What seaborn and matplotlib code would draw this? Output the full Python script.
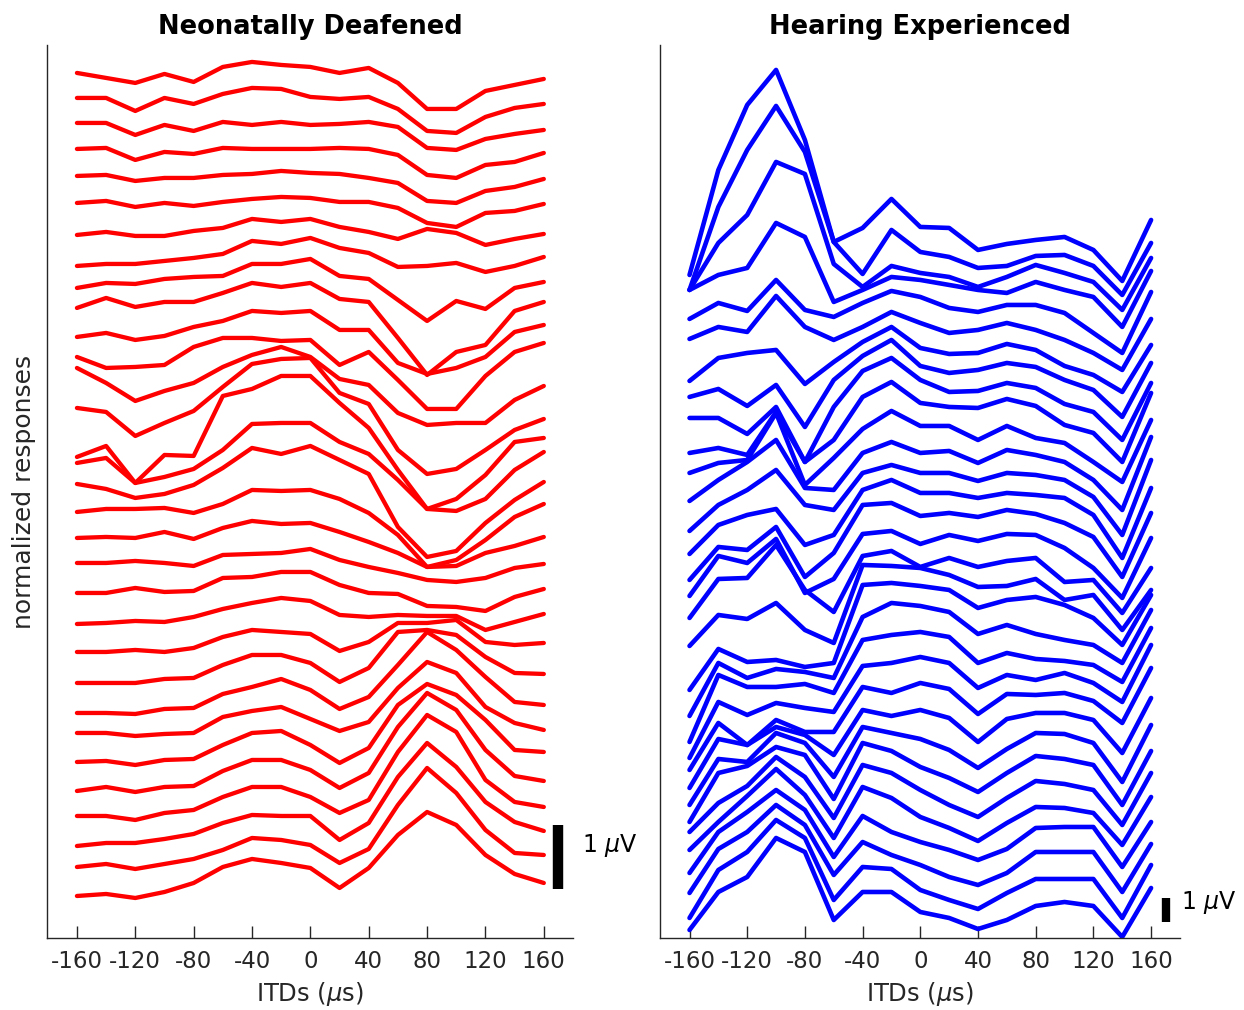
"""
plot.py

Respuestas normalizadas vs ITD para dos grupos (sordos neonatales / con experiencia auditiva).
"""

import numpy as np
import pandas as pd
import matplotlib
matplotlib.use("Agg")
import matplotlib.pyplot as plt
import seaborn as sns

ITDS = list(range(-160, 161, 20))
ITD_TICKS = list(range(-160, 161, 40))

# Lecturas de cada traza (unidades de pantalla, crecen hacia abajo).
# Panel izquierdo: 64 unidades = 1 uV ; panel derecho: 24 unidades = 1 uV
deaf_traces = [
    [73, 78, 83, 74, 82, 67, 62, 65, 67, 73, 68, 83, 109, 109, 91, 85, 79],
    [98, 98, 111, 98, 104, 94, 88, 89, 97, 99, 97, 109, 131, 133, 117, 108, 104],
    [123, 123, 135, 125, 131, 122, 125, 122, 125, 124, 122, 127, 148, 150, 139, 134, 130],
    [149, 148, 160, 152, 154, 148, 149, 149, 149, 148, 149, 155, 175, 178, 165, 162, 153],
    [176, 175, 181, 178, 178, 175, 174, 171, 173, 174, 178, 183, 201, 203, 191, 187, 179],
    [203, 201, 207, 203, 206, 202, 199, 197, 198, 202, 202, 208, 223, 227, 213, 211, 204],
    [235, 232, 236, 236, 231, 228, 219, 222, 219, 227, 232, 239, 229, 233, 245, 239, 234],
    [266, 264, 264, 261, 258, 254, 241, 244, 238, 248, 253, 267, 266, 263, 272, 266, 257],
    [288, 283, 284, 279, 277, 276, 264, 264, 259, 276, 279, 300, 321, 301, 309, 288, 282],
    [308, 298, 307, 302, 302, 293, 283, 287, 283, 299, 302, 338, 375, 352, 345, 311, 302],
    [337, 333, 340, 336, 327, 321, 311, 313, 311, 330, 330, 363, 374, 368, 357, 332, 325],
    [357, 368, 367, 365, 347, 338, 338, 341, 340, 365, 352, 380, 409, 409, 376, 352, 343],
    [368, 383, 401, 391, 383, 367, 355, 347, 357, 379, 385, 413, 425, 423, 423, 400, 386],
    [408, 412, 436, 423, 411, 387, 364, 359, 358, 393, 404, 450, 474, 469, 450, 430, 419],
    [457, 446, 483, 455, 456, 396, 389, 376, 376, 403, 428, 470, 509, 499, 475, 442, 438],
    [463, 458, 483, 477, 469, 450, 424, 423, 423, 442, 454, 480, 509, 511, 499, 470, 452],
    [484, 489, 498, 494, 485, 468, 448, 454, 446, 460, 474, 527, 557, 551, 523, 500, 482],
    [512, 509, 509, 508, 513, 504, 490, 491, 490, 499, 513, 535, 567, 560, 540, 517, 504],
    [538, 537, 538, 532, 539, 528, 521, 524, 523, 532, 542, 553, 567, 566, 553, 546, 537],
    [563, 563, 561, 563, 566, 555, 554, 553, 549, 560, 567, 573, 580, 582, 578, 568, 564],
    [593, 593, 588, 592, 591, 578, 577, 572, 572, 585, 593, 594, 606, 607, 611, 597, 589],
    [624, 623, 621, 622, 617, 609, 603, 598, 601, 615, 617, 615, 616, 616, 630, 622, 614],
    [652, 652, 650, 652, 648, 637, 630, 632, 634, 651, 642, 623, 623, 620, 642, 645, 643],
    [683, 683, 683, 679, 678, 665, 655, 655, 663, 682, 668, 632, 630, 635, 657, 673, 674],
    [713, 713, 714, 709, 708, 694, 687, 679, 690, 709, 697, 665, 632, 650, 677, 702, 705],
    [733, 733, 736, 734, 733, 717, 711, 707, 719, 731, 722, 688, 662, 673, 707, 723, 730],
    [762, 761, 765, 760, 759, 745, 733, 731, 745, 763, 748, 705, 684, 695, 720, 750, 752],
    [791, 787, 792, 787, 786, 771, 760, 760, 770, 788, 773, 727, 693, 710, 750, 776, 781],
    [816, 816, 820, 813, 810, 797, 787, 787, 797, 813, 800, 752, 715, 732, 780, 802, 807],
    [846, 843, 843, 839, 834, 823, 815, 816, 816, 840, 823, 777, 743, 767, 802, 822, 831],
    [867, 864, 869, 864, 859, 850, 838, 840, 845, 863, 849, 805, 768, 793, 830, 853, 855],
    [896, 894, 898, 892, 883, 867, 859, 863, 868, 888, 868, 835, 812, 825, 855, 874, 883],
]

hearing_traces = [
    [275, 170, 105, 70, 140, 242, 228, 199, 227, 228, 250, 244, 240, 237, 250, 281, 220],
    [290, 207, 150, 106, 152, 242, 274, 230, 252, 257, 268, 266, 256, 255, 266, 295, 243],
    [290, 243, 215, 162, 174, 264, 287, 266, 273, 277, 287, 277, 265, 273, 282, 310, 258],
    [290, 275, 268, 223, 237, 302, 290, 277, 280, 285, 290, 293, 282, 290, 297, 327, 271],
    [319, 303, 311, 280, 310, 317, 303, 291, 297, 308, 312, 305, 305, 313, 333, 353, 292],
    [339, 327, 332, 296, 327, 340, 327, 312, 323, 333, 330, 323, 330, 340, 353, 370, 319],
    [381, 358, 353, 350, 384, 362, 342, 327, 348, 354, 353, 344, 350, 366, 375, 392, 345],
    [397, 389, 406, 385, 427, 380, 356, 340, 366, 373, 370, 363, 367, 380, 390, 417, 363],
    [418, 418, 434, 407, 462, 407, 371, 358, 380, 392, 391, 383, 388, 404, 412, 440, 383],
    [453, 448, 455, 412, 462, 440, 397, 382, 403, 407, 408, 399, 406, 425, 433, 462, 393],
    [473, 463, 460, 413, 485, 458, 429, 411, 426, 426, 440, 426, 438, 443, 462, 482, 420],
    [501, 480, 462, 440, 488, 490, 453, 442, 453, 451, 463, 450, 455, 462, 480, 510, 437],
    [531, 505, 490, 470, 505, 510, 473, 465, 473, 473, 481, 473, 475, 480, 497, 535, 460],
    [554, 525, 515, 509, 545, 535, 490, 480, 493, 493, 498, 493, 495, 498, 515, 558, 488],
    [580, 547, 550, 527, 577, 553, 505, 503, 516, 513, 517, 510, 514, 523, 537, 577, 513],
    [596, 556, 563, 539, 593, 579, 534, 531, 544, 535, 541, 534, 535, 548, 568, 598, 538],
    [618, 579, 578, 545, 590, 612, 556, 551, 567, 558, 567, 561, 558, 582, 580, 613, 568],
    [646, 615, 619, 603, 630, 643, 565, 566, 568, 575, 587, 586, 579, 600, 595, 630, 590],
    [690, 649, 662, 660, 667, 663, 585, 583, 586, 590, 608, 600, 597, 605, 618, 645, 595],
    [716, 663, 678, 669, 672, 678, 617, 603, 606, 612, 634, 625, 634, 640, 645, 663, 610],
    [742, 675, 687, 687, 684, 693, 640, 635, 632, 637, 663, 653, 659, 661, 665, 682, 628],
    [758, 702, 715, 703, 708, 712, 666, 663, 657, 663, 688, 675, 680, 673, 683, 702, 645],
    [770, 723, 745, 720, 732, 732, 687, 693, 683, 689, 714, 694, 695, 693, 701, 723, 668],
    [788, 739, 745, 727, 735, 755, 710, 716, 710, 718, 742, 719, 713, 713, 720, 753, 698],
    [805, 759, 762, 733, 743, 777, 727, 733, 739, 750, 768, 749, 733, 734, 743, 782, 725],
    [822, 773, 766, 747, 755, 799, 743, 751, 767, 778, 792, 773, 756, 759, 765, 805, 751],
    [832, 803, 786, 757, 777, 818, 765, 773, 790, 805, 817, 798, 781, 784, 790, 825, 773],
    [850, 822, 796, 769, 795, 838, 787, 798, 817, 828, 841, 823, 807, 808, 813, 845, 797],
    [873, 832, 812, 790, 810, 857, 816, 832, 842, 850, 860, 849, 828, 827, 827, 867, 822],
    [893, 849, 832, 805, 825, 875, 842, 855, 865, 877, 885, 873, 852, 852, 852, 892, 844],
    [918, 870, 852, 820, 838, 900, 867, 869, 890, 900, 909, 893, 879, 879, 879, 918, 865],
    [930, 892, 877, 838, 852, 920, 892, 892, 912, 918, 929, 920, 906, 902, 906, 937, 888],
]

UV_UNITS = {"deaf": 64, "hearing": 24}

INK = "#262626"


def to_long(traces):
    rows = []
    for i, tr in enumerate(traces):
        for itd, v in zip(ITDS, tr):
            rows.append((i, itd, v))
    return pd.DataFrame(rows, columns=["trace", "itd", "resp"])


sns.set_style("ticks")
plt.rcParams["font.family"] = ["DejaVu Sans"]
plt.rcParams["axes.unicode_minus"] = False

fig = plt.figure(figsize=(12.44, 10.10), dpi=100)
ax_l = fig.add_axes([0.0378, 0.0713, 0.4228, 0.8842])
ax_r = fig.add_axes([0.5305, 0.0713, 0.4180, 0.8842])

# (eje, trazas, color, titulo, unidades por uV, grosor, tope barra, ancho barra, texto x, texto y)
panels = [
    (ax_l, deaf_traces, "red", "Neonatally Deafened", UV_UNITS["deaf"], 3.1, 825, 7.5, 186, 846),
    (ax_r, hearing_traces, "blue", "Hearing Experienced", UV_UNITS["hearing"], 3.3, 898, 6.0, 181, 903),
]

for ax, traces, color, title, uv, lw, bar_top, bar_w, text_x, text_y in panels:
    df = to_long(traces)
    sns.lineplot(data=df, x="itd", y="resp", units="trace", estimator=None,
                 color=color, lw=lw, ax=ax, legend=False)
    ax.set_xlim(-180.5, 180)
    ax.set_ylim(938, 45)
    ax.set_xticks(ITD_TICKS)
    ax.set_xticklabels([str(t) for t in ITD_TICKS])
    ax.set_yticks([])
    ax.tick_params(axis="x", direction="in", length=9, width=1,
                   labelsize=16.5, pad=9, colors=INK)
    for s in ["top", "right"]:
        ax.spines[s].set_visible(False)
    for s in ["left", "bottom"]:
        ax.spines[s].set_color(INK)
        ax.spines[s].set_linewidth(1)
    ax.set_xlabel("ITDs ($\\mu$s)", fontsize=17.5, color=INK, labelpad=5)
    ax.set_ylabel("")
    ax.set_title(title, fontsize=18.5, fontweight="bold", color="black", pad=8)

    # barra de escala 1 uV
    ax.plot([170, 170], [bar_top, bar_top + uv], color="black", lw=bar_w,
            solid_capstyle="butt", clip_on=False)
    ax.text(text_x, text_y, "1 $\\mu$V",
            fontsize=17, va="center", ha="left", color="black", clip_on=False)

ax_l.set_ylabel("normalized responses", fontsize=18, color=INK, labelpad=8)

fig.savefig("out.png", dpi=100)
plt.close(fig)
